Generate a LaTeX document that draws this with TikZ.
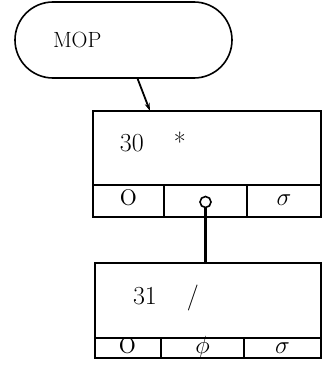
\documentclass[tikz,border=0pt]{standalone}
\usepackage{amsmath,amssymb}
\usetikzlibrary{arrows.meta,positioning,calc}
\newcommand{\nilmark}{{\fontsize{36}{38}\selectfont o}}

\begin{document}
\begin{tikzpicture}[x=1pt,y=1pt,line width=1.6pt,
 every node/.style={font=\fontsize{22}{26}\selectfont},
 capsule/.style={draw,rounded corners=38pt,minimum height=76pt,inner xsep=38pt,text width=141pt,align=left,font=\fontsize{22}{26}\selectfont},
 recbox/.style={draw,anchor=north west,outer sep=0pt,align=left,text depth=12pt,font=\fontsize{26}{30}\selectfont},
 cell/.style={draw,anchor=north west,outer sep=0pt,inner sep=0pt,text height=10pt,text depth=0pt,font=\fontsize{28}{32}\selectfont},
 dot/.style={draw,circle,inner sep=0pt,minimum size=11pt,line width=1.6pt},
 arr/.style={-{Stealth[length=8pt,width=5pt]},line width=1.8pt}]
\useasboundingbox (0,0) rectangle (324,368);
\node[capsule] (mop) at (123.5,328) {MOP};
% first record
\node[recbox,minimum height=74pt,inner xsep=27pt,text width=174pt] (b30) at (93,257) {30\hspace{30pt}*};
\node[cell,minimum width=71pt,minimum height=32pt] (l30) at (b30.south west) {\nilmark};
\node[cell,minimum width=83pt,minimum height=32pt] (m30) at (l30.north east) {};
\node[cell,minimum width=74pt,minimum height=32pt] (r30) at (m30.north east) {$\sigma$};
\node[dot] (ptr30) at ($(m30.center)+(0,-1)$) {};
% second record
\node[recbox,minimum height=75pt,inner xsep=38pt,text width=150pt] (b31) at (95,105) {31\hspace{30pt}/};
\node[cell,minimum width=66pt,minimum height=20pt] (l31) at (b31.south west) {\nilmark};
\node[cell,minimum width=83pt,minimum height=20pt] (m31) at (l31.north east) {$\phi$};
\node[cell,minimum width=77pt,minimum height=20pt] (r31) at (m31.north east) {$\sigma$};
\draw[arr] (mop.-70) -- ($(b30.north west)!0.25!(b30.north east)$);
\draw[line width=2.4pt] (ptr30) -- (b31.north -| ptr30);
\end{tikzpicture}
\end{document}
